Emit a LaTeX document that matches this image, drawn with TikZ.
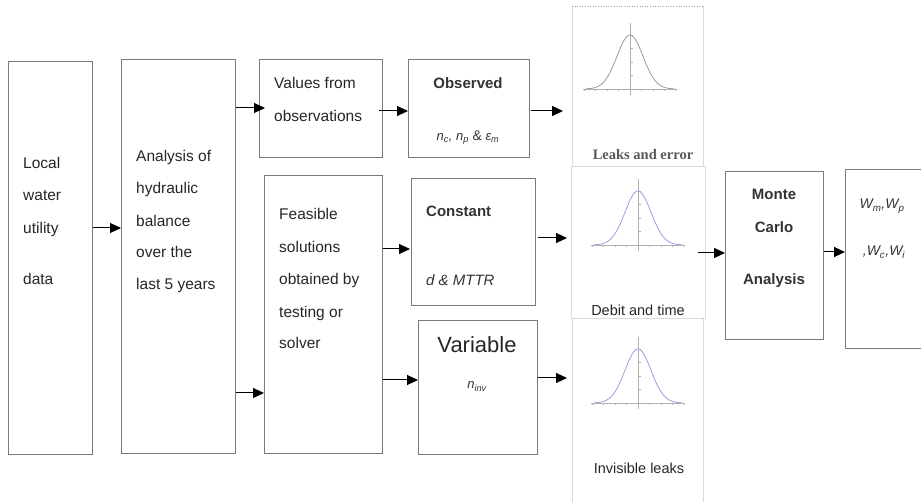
\documentclass[tikz,border=0pt]{standalone}
\usepackage{fontspec}
\setmainfont{Liberation Sans}
\newfontfamily\serifface{Liberation Serif}
\usetikzlibrary{arrows.meta,positioning}
\definecolor{boxgray}{HTML}{7A7A7A}
\definecolor{panelgray}{HTML}{DADADA}
\definecolor{curvegray}{HTML}{9A9A9A}
\definecolor{curveblue}{HTML}{9C9CE0}
\definecolor{axisgray}{HTML}{B0B0B0}
\newcommand{\bellcurve}[3]{%
  \draw[axisgray,line width=0.6pt] ({#1-47},#2) -- ({#1+47},#2);
  \draw[axisgray,line width=0.6pt] (#1,{#2+6}) -- (#1,{#2-66});
  \foreach \k in {-4,...,4}{\draw[axisgray,line width=0.5pt] ({#1+11.5*\k},#2) -- ({#1+11.5*\k},{#2+2.5});}
  \foreach \k in {1,...,4}{\draw[axisgray,line width=0.5pt] (#1,{#2-13.5*\k}) -- ({#1+2.5},{#2-13.5*\k});}
  \draw[#3,line width=0.8pt,domain=-44:44,samples=70,smooth] plot ({#1+\x},{#2-54*exp(-(\x*\x)/338)});
}
\tikzset{
  box/.style={draw=boxgray,line width=0.7pt,rectangle,inner sep=0pt},
  panel/.style={draw=panelgray,line width=0.8pt,rectangle,inner sep=0pt},
  arr/.style={-{Triangle[length=11pt,width=10pt]},line width=1pt,black},
  txt/.style={font=\fontsize{15.5}{18}\selectfont,text=black!85,inner sep=0pt},
  btxt/.style={font=\fontsize{15}{18}\selectfont\bfseries,text=black!80,inner sep=0pt},
  itxt/.style={font=\fontsize{13}{16}\selectfont\itshape,text=black!80,inner sep=0pt},
}
\begin{document}
\begin{tikzpicture}[x=1pt,y=-1pt]
\useasboundingbox (0,0) rectangle (921,502);
% boxes
\node[box,minimum width=84pt,minimum height=393pt,anchor=north west] (local) at (8,61) {};
\node[box,minimum width=114pt,minimum height=394pt,anchor=north west] (anal) at (121,59) {};
\node[box,minimum width=123pt,minimum height=98pt,anchor=north west] (vals) at (259,59) {};
\node[box,minimum width=118pt,minimum height=278pt,anchor=north west] (feas) at (264,175) {};
\node[box,minimum width=121pt,minimum height=98pt,anchor=north west] (obs) at (408,59) {};
\node[box,minimum width=124pt,minimum height=127pt,anchor=north west] (const) at (411,178) {};
\node[box,minimum width=119pt,minimum height=134pt,anchor=north west] (var) at (418,320) {};
\node[box,minimum width=98pt,minimum height=168pt,anchor=north west] (mc) at (725,171) {};
\node[minimum width=76pt,minimum height=179pt,anchor=north west,inner sep=0pt] (out) at (845,169) {};
\draw[boxgray,line width=0.7pt] (out.north east) -- (out.north west) -- (out.south west) -- (out.south east);
% panels
\node[panel,draw=none,minimum width=131pt,minimum height=160pt,anchor=north west] (p1) at (572,6) {};
\draw[panelgray,line width=0.8pt] (p1.south west) -- (p1.north west);
\draw[panelgray,line width=0.8pt] (p1.south east) -- (p1.north east);
\draw[curvegray,line width=0.6pt,dotted] (p1.north west) -- (p1.north east);
\node[panel,minimum width=134pt,minimum height=152pt,anchor=north west] (p2) at (571,166) {};
\node[panel,draw=none,minimum width=131pt,minimum height=184pt,anchor=north west] (p3) at (572,318) {};
\draw[panelgray,line width=0.8pt] (p3.north west) -- (p3.south west);
\draw[panelgray,line width=0.8pt] (p3.north east) -- (p3.south east);
\bellcurve{630}{89}{curvegray}
\bellcurve{638}{245}{curveblue}
\bellcurve{638}{403}{curveblue}
% texts
\node[txt,anchor=base west] (t1a) at (23,169) {Local};
\node[txt,anchor=base west] (t1b) at (23,201) {water};
\node[txt,anchor=base west] (t1c) at (23,234) {utility};
\node[txt,anchor=base west] (t1d) at (23,285) {data};
\node[txt,anchor=base west] (t2a) at (136,162) {Analysis of};
\node[txt,anchor=base west] (t2b) at (136,194) {hydraulic};
\node[txt,anchor=base west] (t2c) at (136,227) {balance};
\node[txt,anchor=base west] (t2d) at (136,258) {over the};
\node[txt,anchor=base west] (t2e) at (136,290) {last 5 years};
\node[txt,anchor=base west] (t3a) at (274,89) {Values from};
\node[txt,anchor=base west] (t3b) at (274,122) {observations};
\node[txt,anchor=base west] (t4a) at (279,220) {Feasible};
\node[txt,anchor=base west] (t4b) at (279,253) {solutions};
\node[txt,anchor=base west] (t4c) at (279,285) {obtained by};
\node[txt,anchor=base west] (t4d) at (279,318) {testing or};
\node[txt,anchor=base west] (t4e) at (279,349) {solver};
\node[btxt,anchor=base] (t5a) at (468,89) {Observed};
\node[itxt,anchor=base] (t5b) at (468,141) {n\textsubscript{c}, n\textsubscript{p} {\upshape\fontsize{14}{16}\selectfont \&} ε\textsubscript{m}};
\node[btxt,anchor=base west] (t6a) at (426,217) {Constant};
\node[itxt,font=\fontsize{15}{18}\selectfont\itshape,anchor=base west] (t6b) at (426,286) {d \& MTTR};
\node[txt,font=\fontsize{22}{26}\selectfont,anchor=base] (t7a) at (477,353) {Variable};
\node[itxt,anchor=base] (t7b) at (477,389) {n\textsubscript{inv}};
\node[font=\serifface\fontsize{14.5}{17}\selectfont\bfseries,text=black!65,inner sep=0pt,anchor=base] (l1) at (643,160) {Leaks and error};
\node[txt,font=\fontsize{14.5}{17}\selectfont,anchor=base] (l2) at (638,316) {Debit and time};
\node[txt,font=\fontsize{14.5}{17}\selectfont,anchor=base] (l3) at (639,473) {Invisible leaks};
\node[btxt,anchor=base] (t8a) at (774,200) {Monte};
\node[btxt,anchor=base] (t8b) at (774,233) {Carlo};
\node[btxt,anchor=base] (t8c) at (774,285) {Analysis};
\node[itxt,font=\fontsize{14}{17}\selectfont\itshape,anchor=base] (t9a) at (882,209) {W\textsubscript{m},W\textsubscript{p}};
\node[itxt,font=\fontsize{14}{17}\selectfont\itshape,anchor=base] (t9b) at (884,256) {,W\textsubscript{c},W\textsubscript{i}};
% arrows
\draw[arr] (local.east |- 0,228) -- (anal.west |- 0,228);
\draw[arr] (anal.east |- 0,108) -- ([xshift=6pt]vals.west |- 0,108);
\draw[arr] (anal.east |- 0,393) -- (feas.west |- 0,393);
\draw[arr] ([xshift=-4pt]vals.east |- 0,111) -- (obs.west |- 0,111);
\draw[arr] (feas.east |- 0,249) -- ([xshift=-1pt]const.west |- 0,249);
\draw[arr] (feas.east |- 0,380) -- (var.west |- 0,380);
\draw[arr] ([xshift=1pt]obs.east |- 0,111) -- ([xshift=-9pt]p1.west |- 0,111);
\draw[arr] ([xshift=2pt]const.east |- 0,238) -- ([xshift=-4pt]p2.west |- 0,238);
\draw[arr] (var.east |- 0,378) -- ([xshift=-5pt]p3.west |- 0,378);
\draw[arr] ([xshift=-8pt]p2.east |- 0,253) -- (mc.west |- 0,253);
\draw[arr] (mc.east |- 0,252) -- (out.west |- 0,252);
\end{tikzpicture}
\end{document}
